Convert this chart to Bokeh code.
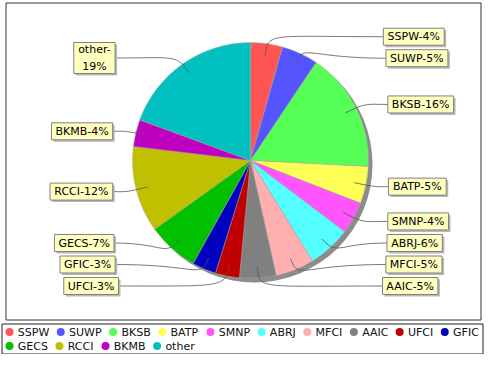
import math
from bokeh.plotting import figure
from bokeh.models import Range1d, ColumnDataSource
from bokeh.core.properties import value
from bokeh.embed import file_html
from bokeh.resources import INLINE

# ---- data ----
categories = ["SSPW", "SUWP", "BKSB", "BATP", "SMNP", "ABRJ", "MFCI",
              "AAIC", "UFCI", "GFIC", "GECS", "RCCI", "BKMB", "other"]
shares = [4.4, 5.0, 16.4, 5.1, 4.4, 5.9, 5.3, 5.0, 3.3, 3.3, 7.0, 11.8, 3.7, 19.4]
colors = ["#FF5555", "#5555FF", "#55FF55", "#FFFF55", "#FF55FF", "#55FFFF",
          "#FFAFAF", "#808080", "#C00000", "#0000C0", "#00C000", "#C0C000",
          "#C000C0", "#00C0C0"]

# ---- style / layout ----
FONT = "DejaVu Sans"
FS = 11.0
FS_STR = "11px"
ADV = {"A": 1401, "B": 1405, "C": 1430, "D": 1577, "E": 1294, "F": 1178, "G": 1587,
       "H": 1540, "I": 604, "J": 604, "K": 1343, "L": 1141, "M": 1767, "N": 1532,
       "O": 1612, "P": 1235, "R": 1423, "S": 1300, "T": 1251, "U": 1499, "W": 2025,
       "e": 1260, "h": 1298, "o": 1253, "r": 842, "t": 803, "-": 739, "%": 1946}


def text_w(s, fs=FS):
    return sum(ADV.get(c, 1303) for c in s) / 2048.0 * fs


CW, CH = 484, 354


def Y(py):
    return CH - py


p = figure(width=CW, height=CH, x_range=Range1d(0, CW), y_range=Range1d(0, CH),
           output_backend="svg", toolbar_location=None, x_axis_type=None,
           y_axis_type=None, min_border=0)
p.grid.visible = False
p.outline_line_color = None
p.background_fill_color = "white"
p.border_fill_color = "white"

# frames
p.quad(left=[5.5], right=[480.5], top=[Y(2.5)], bottom=[Y(319.5)],
       fill_color=None, line_color="#333333", line_width=1)
p.quad(left=[1.5], right=[482.5], top=[Y(323.5)], bottom=[Y(353.5)],
       fill_color=None, line_color="#222222", line_width=1)

# pie geometry
CX, CY = 250.0, 160.0
R = 118.0
total = sum(shares)
fr = [s / total for s in shares]
starts, ends = [], []
acc = 0.0
for f in fr:
    starts.append(acc)
    acc += f
    ends.append(acc)

src = ColumnDataSource(dict(
    start=[math.pi / 2 - 2 * math.pi * s for s in starts],
    end=[math.pi / 2 - 2 * math.pi * e for e in ends],
    color=colors,
))

# shadow
p.circle(x=[CX + 4], y=[Y(CY + 4)], radius=R, fill_color="#8c8c8c", line_color=None)
p.wedge(x=CX, y=Y(CY), radius=R, start_angle="start", end_angle="end",
        direction="clock", fill_color="color", line_color="#a8a8a8",
        line_width=0.5, source=src)

# ---- labels ----
RL = 125.0
GAP = 4.5
LINE_H = 14.0
pcts = [round(f * 100) for f in fr]
labels = [f"{c}-{pc}%" for c, pc in zip(categories, pcts)]

recs = []
for i, (s, e) in enumerate(zip(starts, ends)):
    th = 2 * math.pi * (s + e) / 2
    right = math.sin(th) >= 0
    txt = labels[i]
    if not right and text_w(txt) > 56:
        a, b = txt.split("-", 1)
        txt = a + "-\n" + b
    nl = txt.count("\n") + 1
    tw = max(text_w(t) for t in txt.split("\n"))
    recs.append(dict(i=i, th=th, right=right, txt=txt, h=LINE_H * nl + 3,
                     w=tw + 8, y=CY - RL * math.cos(th)))

top_lim = CY - RL - 9
bot_lim = CY + RL + 9
for side in (True, False):
    rs = sorted([r for r in recs if r["right"] == side], key=lambda r: r["y"])
    for k in range(1, len(rs)):
        mn = rs[k - 1]["y"] + (rs[k - 1]["h"] + rs[k]["h"]) / 2 + GAP
        rs[k]["y"] = max(rs[k]["y"], mn)
    if rs and rs[-1]["y"] + rs[-1]["h"] / 2 > bot_lim:
        rs[-1]["y"] = bot_lim - rs[-1]["h"] / 2
        for k in range(len(rs) - 2, -1, -1):
            mx = rs[k + 1]["y"] - (rs[k + 1]["h"] + rs[k]["h"]) / 2 - GAP
            rs[k]["y"] = min(rs[k]["y"], mx)
    if rs and rs[0]["y"] - rs[0]["h"] / 2 < top_lim:
        rs[0]["y"] = top_lim + rs[0]["h"] / 2

bx0, bx1, by0, by1, tx, ty, tt = [], [], [], [], [], [], []
lx0, ly0, lx1, ly1, lcx0, lcy0, lcx1, lcy1 = [], [], [], [], [], [], [], []
for r in recs:
    dy = (r["y"] - CY) / RL
    off = 132 + 6 * math.sqrt(max(0.0, 1 - dy * dy))
    if r["right"]:
        left = CX + off
        rgt = left + r["w"]
        edge = left
    else:
        rgt = CX - off
        left = rgt - r["w"]
        edge = rgt
    top = r["y"] - r["h"] / 2
    bot = r["y"] + r["h"] / 2
    bx0.append(left); bx1.append(rgt); by0.append(Y(top)); by1.append(Y(bot))
    tx.append((left + rgt) / 2); ty.append(Y(r["y"])); tt.append(r["txt"])
    th = r["th"]
    ex = CX + 1.1 * R * math.sin(th)
    ey = CY - 1.1 * R * math.cos(th)
    kx = CX + 0.9 * R * math.sin(th)
    ky = CY - 0.9 * R * math.cos(th)
    lx0.append(edge); ly0.append(Y(r["y"]))
    lcx0.append(ex); lcy0.append(Y(r["y"]))
    lcx1.append(ex); lcy1.append(Y(ey))
    lx1.append(kx); ly1.append(Y(ky))

p.bezier(x0=lx0, y0=ly0, x1=lx1, y1=ly1, cx0=lcx0, cy0=lcy0, cx1=lcx1, cy1=lcy1,
         line_color="#555555", line_width=0.8)
p.quad(left=[x + 2 for x in bx0], right=[x + 2 for x in bx1],
       top=[y - 2 for y in by0], bottom=[y - 2 for y in by1],
       fill_color="#b8b8b8", line_color=None)
p.quad(left=bx0, right=bx1, top=by0, bottom=by1, fill_color="#FFFFC0",
       line_color="#808080", line_width=1)
p.text(x=tx, y=ty, text=tt, text_font=value(FONT), text_font_size=FS_STR,
       text_align="center", text_baseline="middle", text_color="black",
       text_line_height=1.25)

# ---- legend (flow layout) ----
L_START = 9.0
L_RIGHT = 481.0
ROW_Y = [331.5, 345.5]
MK_TXT = 8.3
ITEM_GAP = 11.5
mx_, my_, lt_x, lt_y = [], [], [], []
x = L_START
row = 0
for c in categories:
    w = MK_TXT + text_w(c)
    if x + w > L_RIGHT:
        row += 1
        x = L_START
    mx_.append(x); my_.append(Y(ROW_Y[row]))
    lt_x.append(x + MK_TXT); lt_y.append(Y(ROW_Y[row]))
    x += w + ITEM_GAP

p.scatter(x=mx_, y=my_, size=8, marker="circle", fill_color=colors, line_color=None)
p.text(x=lt_x, y=lt_y, text=categories, text_font=value(FONT), text_font_size=FS_STR,
       text_align="left", text_baseline="middle", text_color="#111111")

open("out.html", "w").write(file_html(p, INLINE))
